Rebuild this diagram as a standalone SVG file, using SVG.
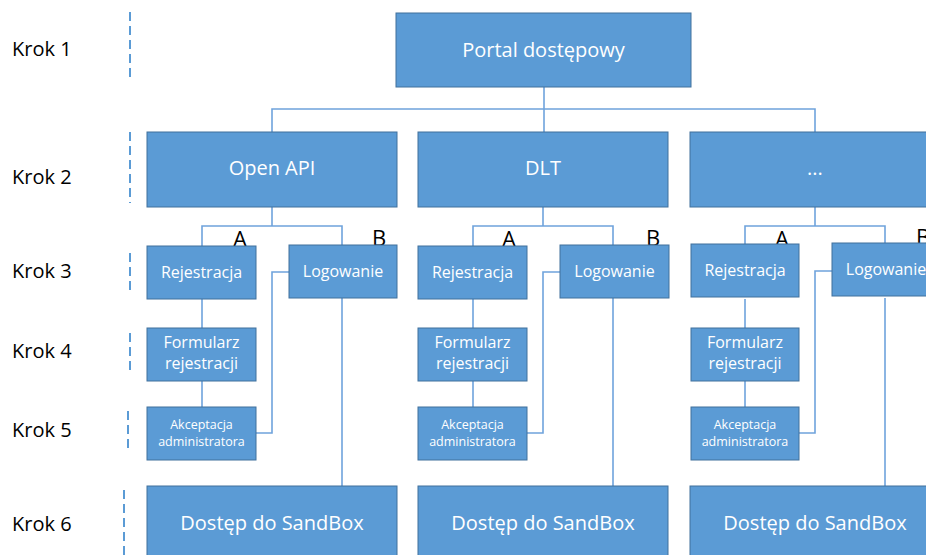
<svg xmlns="http://www.w3.org/2000/svg" width="926" height="555" viewBox="0 0 926 555">
<style>
.box{fill:#5B9BD5;stroke:#41719C;stroke-width:1}
.t{font-family:"Open Sans","Noto Sans",sans-serif;fill:#fff;text-anchor:middle}
.big{font-size:20px}
.mid{font-size:16px}
.sm{font-size:12.5px}
.step{font-family:"Open Sans","Noto Sans",sans-serif;font-size:20px;fill:#000}
.ab{font-family:"Open Sans","Noto Sans",sans-serif;font-size:22px;fill:#000}
.conn{fill:none;stroke:#6FA3DC;stroke-width:1.6}
.dash{stroke:#5B9BD5;stroke-width:2;stroke-dasharray:9 5}
</style>
<rect width="926" height="555" fill="#fff"/>

<g id="steps">
<text class="step" x="12" y="56">Krok 1</text>
<text class="step" x="12" y="184">Krok 2</text>
<text class="step" x="12" y="278">Krok 3</text>
<text class="step" x="12" y="358">Krok 4</text>
<text class="step" x="12" y="437">Krok 5</text>
<text class="step" x="12" y="531">Krok 6</text>
<line class="dash" x1="130" y1="12" x2="130" y2="80"/>
<line class="dash" x1="130" y1="132" x2="130" y2="203"/>
<line class="dash" x1="130" y1="253" x2="130" y2="292"/>
<line class="dash" x1="130" y1="333" x2="130" y2="372"/>
<line class="dash" x1="128" y1="411" x2="128" y2="450"/>
<line class="dash" x1="124" y1="490" x2="124" y2="555"/>
</g>

<g id="connectors">
<path class="conn" d="M544 87V109 M272 132V109H815V132 M544 109V132"/>
<path class="conn" d="M272 207V226 M202 246V226H342V245 M202 299V328 M202 381V407 M256 433H272V272H289 M342 298V486"/>
<path class="conn" d="M543 207V226 M473 246V226H613V245 M473 299V328 M473 381V407 M527 433H543V272H560 M613 298V486"/>
<path class="conn" d="M815 207V226 M745 246V226H885V245 M745 299V328 M745 381V407 M799 433H815V271H832 M885 298V486"/>
</g>

<g id="ab-labels">
<text class="ab" x="233" y="247">A</text>
<text class="ab" x="372" y="246">B</text>
<text class="ab" x="502" y="247">A</text>
<text class="ab" x="646" y="246">B</text>
<text class="ab" x="775" y="247">A</text>
<text class="ab" x="916" y="245">B</text>
</g>

<g id="portal"><rect class="box" x="396" y="13" width="295" height="74"/><text class="t big" x="543.5" y="57">Portal dostępowy</text></g>

<g id="openapi"><rect class="box" x="147" y="132" width="250" height="75"/><text class="t big" x="272" y="175">Open API</text></g>
<g id="dlt"><rect class="box" x="418" y="132" width="250" height="75"/><text class="t big" x="543" y="175">DLT</text></g>
<g id="other"><rect class="box" x="690" y="132" width="252" height="75"/><text class="t big" x="815" y="175">...</text></g>

<g id="rej1"><rect class="box" x="147" y="246" width="109" height="53"/><text class="t mid" x="201.5" y="278">Rejestracja</text></g>
<g id="log1"><rect class="box" x="289" y="245" width="108" height="53"/><text class="t mid" x="343" y="277">Logowanie</text></g>
<g id="form1"><rect class="box" x="147" y="328" width="109" height="53"/><text class="t mid" x="201.5" y="348">Formularz</text><text class="t mid" x="201.5" y="369">rejestracji</text></g>
<g id="akc1"><rect class="box" x="147" y="407" width="109" height="53"/><text class="t sm" x="201.5" y="429">Akceptacja</text><text class="t sm" x="201.5" y="446">administratora</text></g>
<g id="sb1"><rect class="box" x="147" y="486" width="250" height="80"/><text class="t big" x="272" y="530">Dostęp do SandBox</text></g>

<g id="rej2"><rect class="box" x="418" y="246" width="109" height="53"/><text class="t mid" x="472.5" y="278">Rejestracja</text></g>
<g id="log2"><rect class="box" x="560" y="245" width="109" height="53"/><text class="t mid" x="614.5" y="277">Logowanie</text></g>
<g id="form2"><rect class="box" x="418" y="328" width="109" height="53"/><text class="t mid" x="472.5" y="348">Formularz</text><text class="t mid" x="472.5" y="369">rejestracji</text></g>
<g id="akc2"><rect class="box" x="418" y="407" width="109" height="53"/><text class="t sm" x="472.5" y="429">Akceptacja</text><text class="t sm" x="472.5" y="446">administratora</text></g>
<g id="sb2"><rect class="box" x="418" y="486" width="250" height="80"/><text class="t big" x="543" y="530">Dostęp do SandBox</text></g>

<g id="rej3"><rect class="box" x="691" y="244" width="108" height="53"/><text class="t mid" x="745" y="276">Rejestracja</text></g>
<g id="log3"><rect class="box" x="832" y="243" width="110" height="53"/><text class="t mid" x="886" y="275">Logowanie</text></g>
<g id="form3"><rect class="box" x="691" y="328" width="108" height="53"/><text class="t mid" x="745" y="348">Formularz</text><text class="t mid" x="745" y="369">rejestracji</text></g>
<g id="akc3"><rect class="box" x="691" y="407" width="108" height="53"/><text class="t sm" x="745" y="429">Akceptacja</text><text class="t sm" x="745" y="446">administratora</text></g>
<g id="sb3"><rect class="box" x="690" y="486" width="252" height="80"/><text class="t big" x="815" y="530">Dostęp do SandBox</text></g>
</svg>
